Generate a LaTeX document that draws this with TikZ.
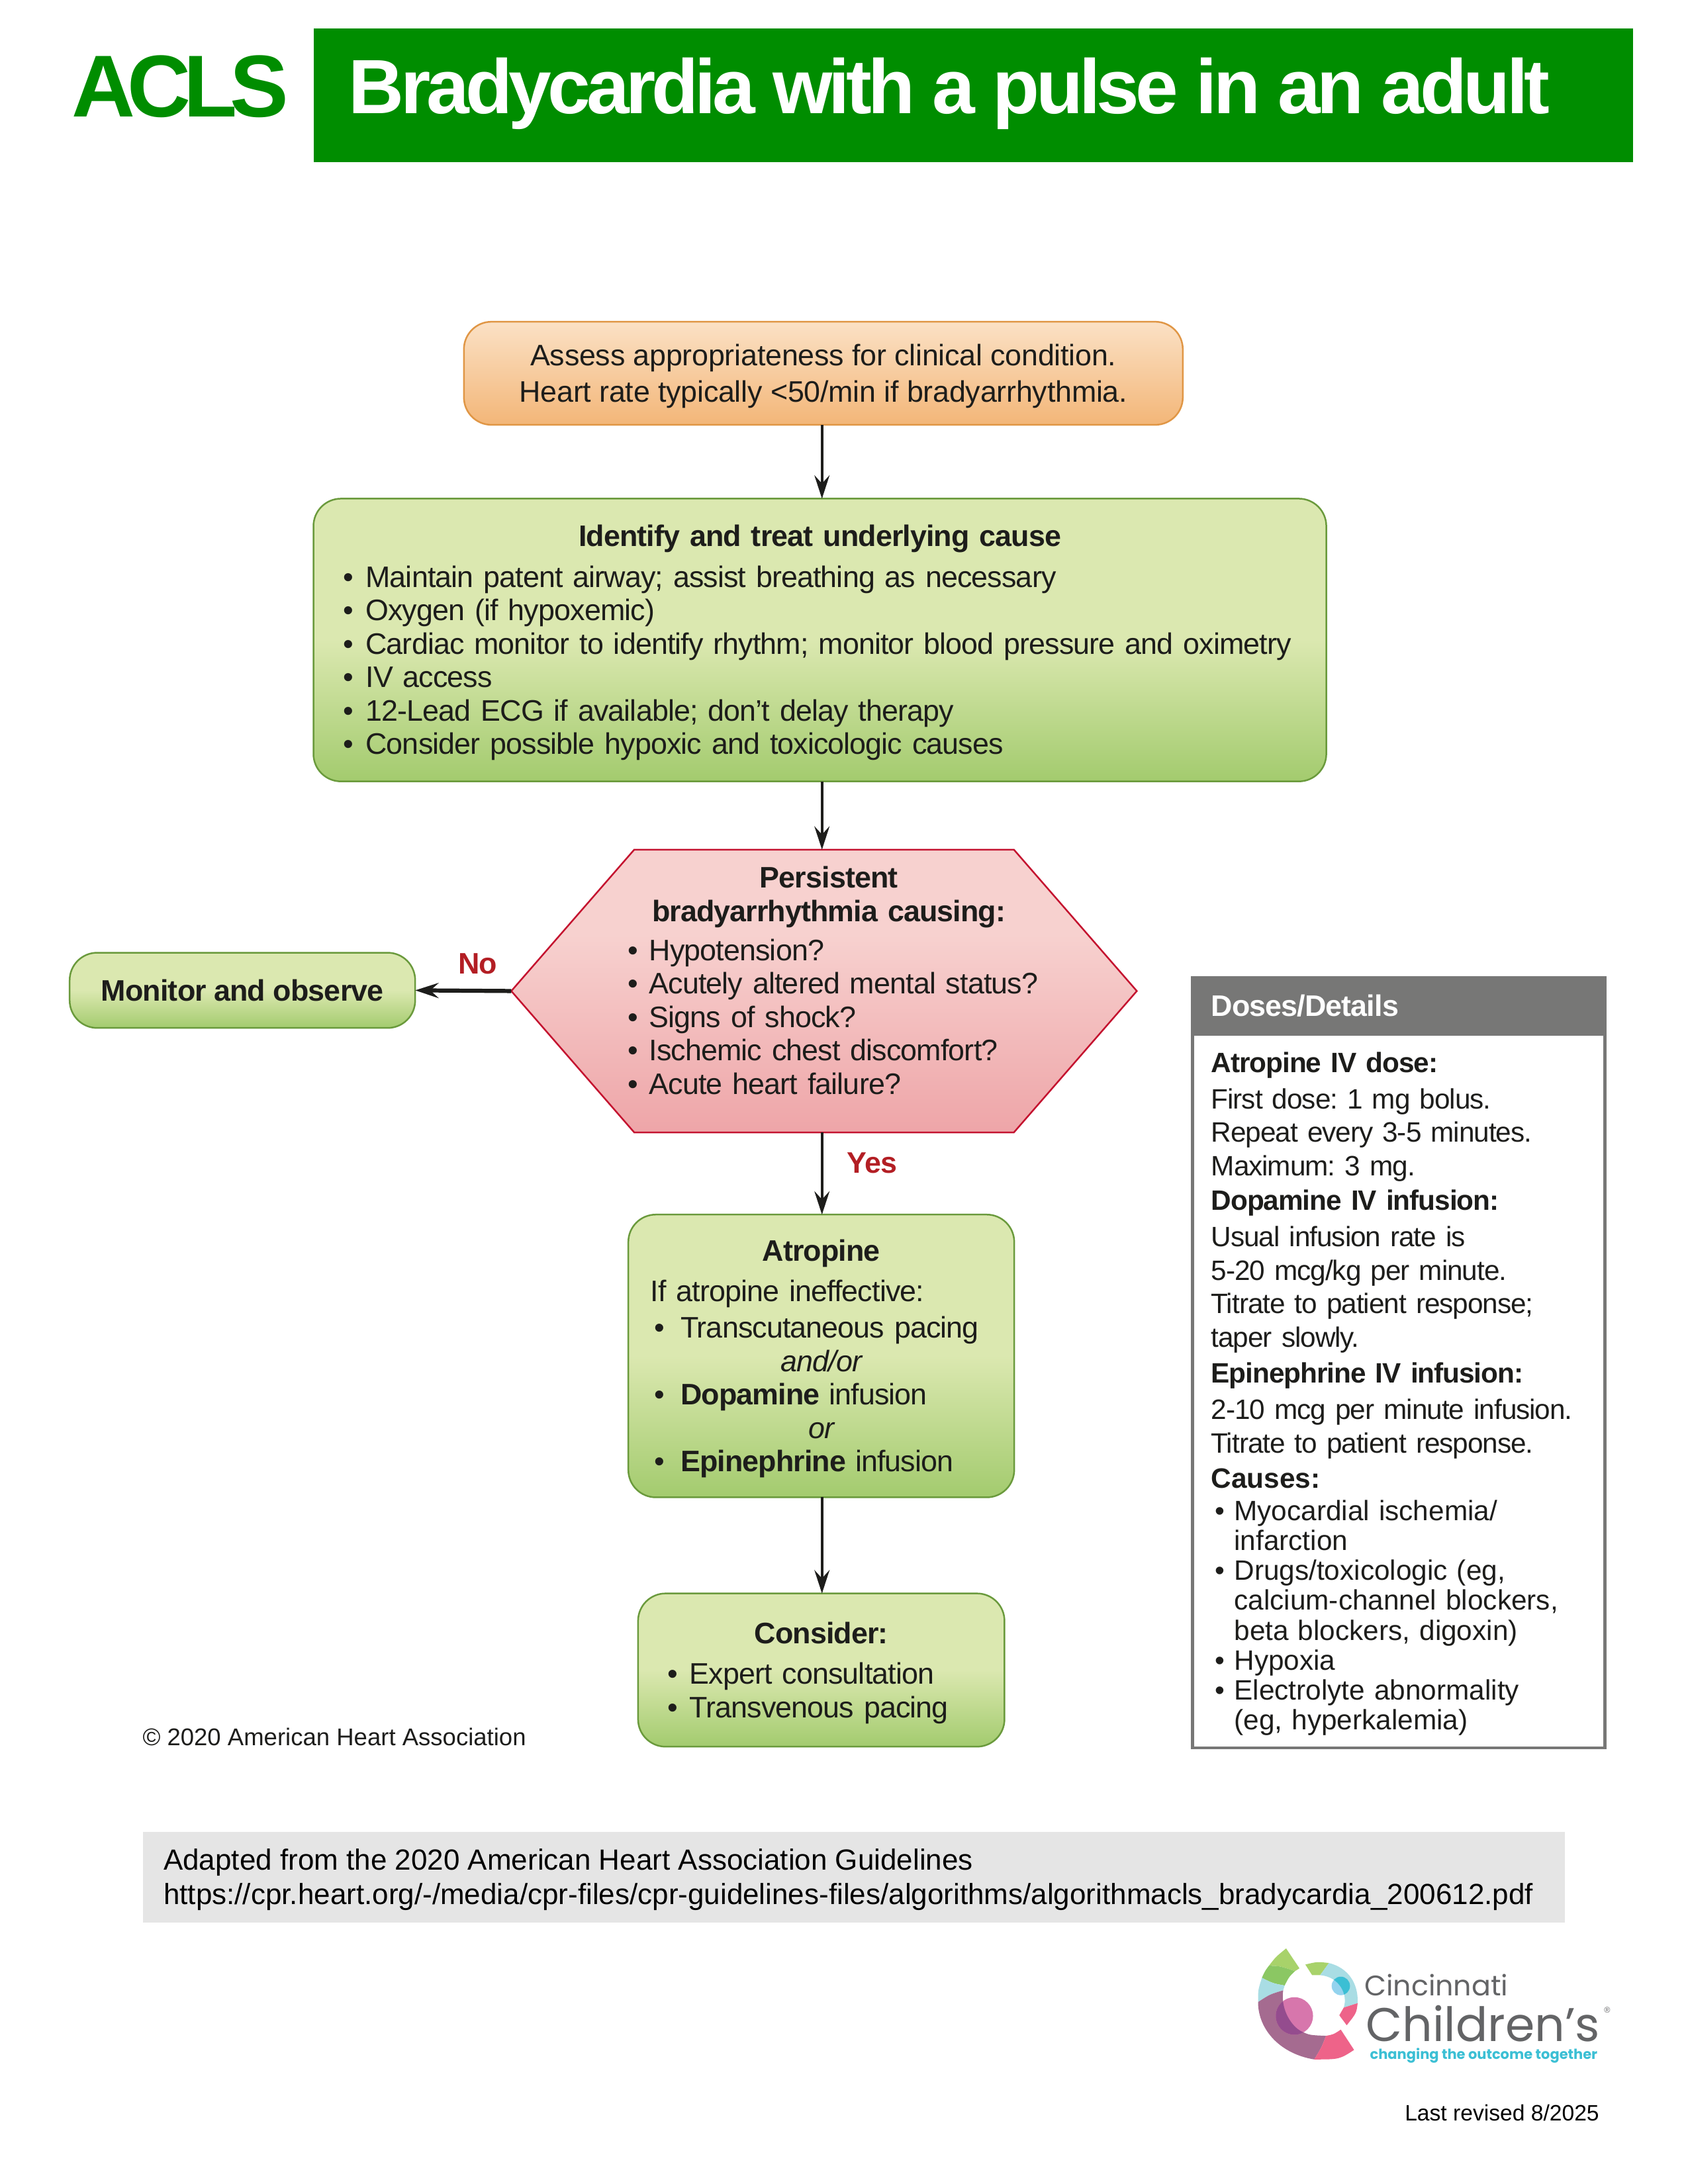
\documentclass[tikz,border=0pt]{standalone}
\usepackage{fontspec}
\setmainfont{Liberation Sans}
\newfontfamily\logofont{Poppins}
\usetikzlibrary{calc}
\usetikzlibrary{arrows.meta}
\usetikzlibrary{shapes.symbols}

\definecolor{acgreen}{HTML}{008D00}
\definecolor{inktext}{HTML}{1D1D1B}
\definecolor{greentop}{HTML}{DBE8B0}
\definecolor{greenbot}{HTML}{A3CB6E}
\definecolor{greenline}{HTML}{6A9A3C}
\definecolor{orangetop}{HTML}{FBE1C5}
\definecolor{orangebot}{HTML}{F3B678}
\definecolor{orangeline}{HTML}{E09645}
\definecolor{redtop}{HTML}{F7D1CF}
\definecolor{redbot}{HTML}{EEA5A8}
\definecolor{redline}{HTML}{C4122F}
\definecolor{answerred}{HTML}{B31E24}
\definecolor{doseshead}{HTML}{777776}
\definecolor{logolime}{HTML}{A8D26A}
\definecolor{logogreen}{HTML}{8BC763}
\definecolor{logoblue}{HTML}{A9DDE4}
\definecolor{logosky}{HTML}{94D3EE}
\definecolor{logocyan}{HTML}{3BBFD4}
\definecolor{logoplum}{HTML}{A56B90}
\definecolor{logodark}{HTML}{944C8E}
\definecolor{logoorchid}{HTML}{D776AC}
\definecolor{logopink}{HTML}{EE6389}
\definecolor{logogray}{HTML}{636466}

\pgfdeclareverticalshading{greenshade}{100bp}{color(0bp)=(greenbot); color(25bp)=(greenbot); color(50bp)=(greentop); color(100bp)=(greentop)}
\pgfdeclareverticalshading{orangeshade}{100bp}{color(0bp)=(orangebot); color(25bp)=(orangebot); color(75bp)=(orangetop); color(100bp)=(orangetop)}
\pgfdeclareverticalshading{redshade}{100bp}{color(0bp)=(redbot); color(25bp)=(redbot); color(60bp)=(redtop); color(100bp)=(redtop)}

\newlength\ux
\setlength\ux{0.507pt}
\newcommand\bodyfont{\fontsize{10.8}{12.17}\selectfont\addfontfeatures{LetterSpace=-2}}
\newcommand\dosefont{\fontsize{10.2}{12.17}\selectfont\addfontfeatures{LetterSpace=-2.5}}
\newcommand\bul[2][14.5]{\par\hangindent=#1\ux\hangafter=1\noindent\makebox[#1\ux][l]{\hspace*{1.4pt}\textbullet}#2\par}
\newcommand\boxhead[2][2.6pt]{\makebox[\linewidth]{\rule{0pt}{9.8pt}\bfseries #2}\par\vspace{#1}}

\tikzset{
  flowbox/.style={draw, line width=.6pt, rounded corners=10pt, shade, inner sep=0pt, outer sep=0pt,
    text=inktext, font=\bodyfont, align=left},
  greenbox/.style={flowbox, draw=greenline, shading=greenshade},
  orangebox/.style={flowbox, draw=orangeline, shading=orangeshade},
  flowarrow/.style={draw=inktext, line width=1pt, -{Stealth[length=8.5pt,width=5.5pt,inset=3pt]}},
  answer/.style={font=\bodyfont\bfseries, text=answerred, inner sep=0pt},
  dosetext/.style={anchor=north west, inner sep=0pt, text=inktext, font=\dosefont, text width=275\ux, align=left},
  notetext/.style={anchor=west, inner sep=0pt}
}

\begin{document}
\frenchspacing
\begin{tikzpicture}[x=\ux,y=-\ux]
  \useasboundingbox (0,0) rectangle (1211.6,1568);

  \node [notetext, text=acgreen, font=\fontsize{32}{32}\selectfont\bfseries\addfontfeatures{LetterSpace=-8.5}] (acls) at (51,62) {ACLS};
  \node [fill=acgreen, inner sep=0pt, minimum width=947\ux, minimum height=96\ux, anchor=north west] (banner) at (225,20) {};
  \node [notetext, text=white, font=\fontsize{28}{28}\selectfont\bfseries\addfontfeatures{LetterSpace=-5}] (title) at (250,67) {Bradycardia with a pulse in an adult};

  \node [orangebox, minimum width=516\ux, minimum height=74\ux, align=center, font=\fontsize{10.8}{12.17}\selectfont\addfontfeatures{LetterSpace=-.5}] (assess) at (591,268)
    {\rule{0pt}{10pt}Assess appropriateness for clinical condition.\\[1pt]Heart rate typically <50/min if bradyarrhythmia.};

  \node [greenbox, minimum width=727\ux, minimum height=203\ux, text width=690\ux] (identify) at (588.5,459.5) {%
    \boxhead{Identify and treat underlying cause}
    \bul[19]{Maintain patent airway; assist breathing as necessary}
    \bul[19]{Oxygen (if hypoxemic)}
    \bul[19]{Cardiac monitor to identify rhythm; monitor blood pressure and oximetry}
    \bul[19]{IV access}
    \bul[19]{12-Lead ECG if available; don’t delay therapy}
    \bul[19]{Consider possible hypoxic and toxicologic causes}};

  \node [flowbox, draw=redline, shading=redshade, shape=signal, signal to=west and east, signal pointer angle=98,
    minimum width=449\ux, minimum height=203\ux, rounded corners=0pt] (persist) at (591.5,711.5) {};
  \node [anchor=center, inner sep=0pt, text=inktext, font=\bodyfont, text width=294\ux, align=left] (persistlist) at (595,704) {%
    \makebox[\linewidth]{\bfseries Persistent}\par
    \makebox[\linewidth]{\bfseries bradyarrhythmia causing:}\par\vspace{2pt}
    \bul[18]{Hypotension?}
    \bul[18]{\mbox{Acutely altered mental status?}}
    \bul[18]{Signs of shock?}
    \bul[18]{Ischemic chest discomfort?}
    \bul[18]{Acute heart failure?}};

  \node [greenbox, minimum width=248\ux, minimum height=54\ux, font=\bodyfont\bfseries] (monitor) at (174,711) {Monitor and observe};

  \node [greenbox, minimum width=277\ux, minimum height=203\ux, text width=245\ux] (atropine) at (589.5,973.5) {%
    \boxhead{Atropine}
    If atropine ineffective:\par\vspace{1pt}
    \bul[21.5]{Transcutaneous pacing}
    \makebox[\linewidth]{\itshape and/or}\par
    \bul[21.5]{\textbf{Dopamine} infusion}
    \makebox[\linewidth]{\itshape or}\par
    \bul[21.5]{\textbf{Epinephrine} infusion}};

  \node [greenbox, minimum width=263\ux, minimum height=110\ux, text width=226\ux] (consider) at (589.5,1199) {%
    \boxhead{Consider:}
    \bul[18.5]{Expert consultation}
    \bul[18.5]{Transvenous pacing}};

  \coordinate (spine) at (590,0);
  \draw [flowarrow] (spine |- assess.south) -- (spine |- identify.north);
  \draw [flowarrow] (spine |- identify.south) -- (spine |- persist.north);
  \draw [flowarrow] (spine |- persist.south) -- (spine |- atropine.north);
  \draw [flowarrow] (spine |- atropine.south) -- (spine |- consider.north);
  \draw [flowarrow, line width=1.5pt] (persist.west) -- (monitor.east);
  \node [answer] (no) at (343,692) {No};
  \node [answer] (yes) at (626,835) {Yes};

  \node [draw=doseshead, line width=1pt, minimum width=296\ux, minimum height=553\ux, anchor=north west, inner sep=0pt] (doses) at (855,701) {};
  \node [fill=doseshead, minimum width=296\ux, minimum height=42\ux, anchor=north west, inner sep=0pt] (doseshead) at (855,701) {};
  \node [notetext, text=white, font=\bodyfont\bfseries] (dosestitle) at (869,722) {Doses/Details};

  \node [dosetext] (atrodose) at (869,755) {%
    \textbf{Atropine IV dose:}\par\vspace{1pt}
    First dose: 1 mg bolus.\par
    Repeat every 3-5 minutes.\par
    Maximum: 3 mg.};
  \node [dosetext] (dopadose) at (869,854) {%
    \textbf{Dopamine IV infusion:}\par\vspace{1pt}
    Usual infusion rate is\par
    5-20 mcg/kg per minute.\par
    Titrate to patient response;\par
    taper slowly.};
  \node [dosetext] (epidose) at (869,978) {%
    \textbf{Epinephrine IV infusion:}\par\vspace{1pt}
    2-10 mcg per minute infusion.\par
    Titrate to patient response.};
  \node [dosetext, font=\fontsize{10.2}{10.85}\selectfont] (causes) at (869,1054) {%
    \textbf{Causes:}\par\vspace{1pt}
    \bul[16.5]{Myocardial ischemia/\newline infarction}
    \bul[16.5]{Drugs/toxicologic (eg,\newline calcium-channel blockers,\newline beta blockers, digoxin)}
    \bul[16.5]{Hypoxia}
    \bul[16.5]{Electrolyte abnormality\newline (eg, hyperkalemia)}};

  \node [notetext, text=inktext, font=\fontsize{8.8}{10}\selectfont] (copyright) at (102,1247) {© 2020 American Heart Association};

  \node [fill=black!10, minimum width=1021\ux, minimum height=65\ux, anchor=north west, inner sep=0pt] (adapted) at (102,1315) {};
  \node [notetext, font=\fontsize{10.6}{12.7}\selectfont, align=left] (adaptedtext) at (117,1349.5)
    {Adapted from the 2020 American Heart Association Guidelines\\https://cpr.heart.org/-/media/cpr-files/cpr-guidelines-files/algorithms/algorithmacls\_bradycardia\_200612.pdf};

  \begin{scope}[shift={(855.3,1354.2)},x=0.2121\ux,y=-0.1584\ux]
    \newcommand\plumpath{(225,525) .. controls (265,490) .. (310,472) .. controls (300,560) and (340,640) .. (375,660) .. controls (400,675) .. (455,678) .. controls (440,730) .. (415,785) .. controls (300,760) and (225,650) .. (225,525) -- cycle}
    \newcommand\ringpath{(465,348) .. controls (530,370) and (565,440) .. (562,530) -- (515,550) .. controls (530,490) and (500,410) .. (435,403) -- cycle}
    \fill [logolime] (320,282) -- (365,372) -- (350,385) .. controls (300,362) .. (262,360) .. controls (285,320) .. (320,282) -- cycle;
    \fill [logogreen] (262,360) .. controls (300,362) .. (350,385) .. controls (330,410) .. (315,450) .. controls (275,440) .. (238,415) .. controls (248,385) .. (262,360) -- cycle;
    \fill [logoblue] (238,415) .. controls (275,440) .. (315,450) -- (310,472) .. controls (265,490) .. (225,525) .. controls (225,470) .. (238,415) -- cycle;
    \fill [logoplum] \plumpath;
    \fill [logoorchid] (348,588) ellipse [x radius=63, y radius=85];
    \begin{scope}
      \clip \plumpath;
      \fill [logodark] (348,588) ellipse [x radius=63, y radius=85];
    \end{scope}
    \fill [logopink] (455,678) .. controls (480,672) .. (505,650) -- (550,742) .. controls (500,785) .. (415,785) .. controls (440,730) .. (455,678) -- cycle;
    \fill [logolime] (385,355) .. controls (425,342) .. (465,348) -- (435,403) -- (408,403) -- cycle;
    \fill [logoblue] \ringpath;
    \fill [logosky] (505,452) ellipse [x radius=31, y radius=42];
    \begin{scope}
      \clip \ringpath;
      \fill [logocyan] (505,452) ellipse [x radius=31, y radius=42];
    \end{scope}
    \fill [logopink] (562,530) .. controls (558,575) .. (525,630) -- (500,585) -- (515,550) -- cycle;
  \end{scope}
  \node [notetext, text=logogray, font=\logofont\fontsize{10.3}{11}\selectfont] (cincinnati) at (979,1425) {Cincinnati};
  \node [notetext, text=logogray, font=\logofont\fontsize{17.2}{19}\selectfont] (childrens) at (980,1453) {Children’s};
  \node [notetext, text=logogray, font=\fontsize{3}{3}\selectfont] (registered) at (1151,1443) {®};
  \node [notetext, text=logocyan, font=\logofont\bfseries\fontsize{5.05}{6}\selectfont] (tagline) at (983,1476) {changing the outcome together};

  \node [notetext, font=\fontsize{8.1}{10}\selectfont] (revised) at (1008,1517) {Last revised 8/2025};
\end{tikzpicture}
\end{document}
